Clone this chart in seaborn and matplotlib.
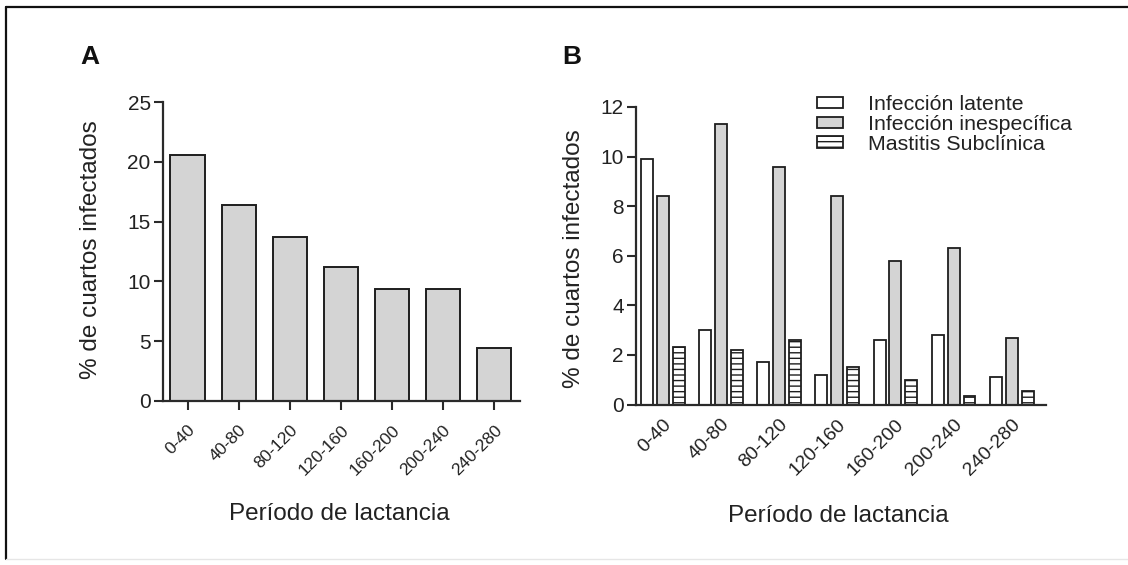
import matplotlib
matplotlib.use("Agg")
import matplotlib.pyplot as plt
from matplotlib.patches import Patch
from matplotlib.lines import Line2D
import seaborn as sns
import pandas as pd

# Lactation periods (days)
periods = ["0-40", "40-80", "80-120", "120-160", "160-200", "200-240", "240-280"]

# Panel A: total infected quarters (%)
total_infected = [20.6, 16.4, 13.7, 11.2, 9.4, 9.4, 4.4]

# Panel B: infected quarters by diagnosis (%)
latent = [9.9, 3.0, 1.7, 1.2, 2.6, 2.8, 1.1]
nonspecific = [8.4, 11.3, 9.6, 8.4, 5.8, 6.3, 2.7]
subclinical = [2.3, 2.2, 2.6, 1.5, 1.0, 0.35, 0.55]
series_names = ["Infección latente", "Infección inespecífica", "Mastitis Subclínica"]

sns.set_style("ticks")
plt.rcParams["font.family"] = ["Liberation Sans", "DejaVu Sans"]
plt.rcParams["hatch.linewidth"] = 1.0
plt.rcParams["hatch.color"] = "#222222"

ink = "#222222"
grey = "#d4d4d4"
edge = "#1e1e1e"

df_a = pd.DataFrame({"periodo": periods, "pct": total_infected})
df_b = pd.DataFrame({
    "periodo": periods * 3,
    "serie": [series_names[0]] * 7 + [series_names[1]] * 7 + [series_names[2]] * 7,
    "pct": latent + nonspecific + subclinical,
})

W, H = 1128, 565
fig = plt.figure(figsize=(W / 100, H / 100), dpi=100)
fig.patch.set_facecolor("white")

axA = fig.add_axes([162.5 / W, 1 - 401 / H, (519.6 - 162.5) / W, (401 - 102) / H])
axB = fig.add_axes([635.5 / W, 1 - 404.5 / H, (1045.5 - 635.5) / W, (404.5 - 107) / H])

# ---- Panel A ----
sns.barplot(data=df_a, x="periodo", y="pct", order=periods, color=grey,
            edgecolor=edge, linewidth=1.4, width=0.67, saturation=1, ax=axA)
for p in axA.patches:
    p.set_facecolor(grey)
axA.set_xlim(-0.49, 6.5)
axA.set_ylim(0, 25)
axA.set_yticks([0, 5, 10, 15, 20, 25])

# ---- Panel B ----
sns.barplot(data=df_b, x="periodo", y="pct", hue="serie", order=periods,
            hue_order=series_names, width=0.82, gap=0.25, saturation=1,
            edgecolor=edge, linewidth=1.3, legend=False, ax=axB)
styles = [("white", ""), (grey, ""), ("white", "---")]
for cont, (fc, hatch) in zip(axB.containers, styles):
    for p in cont.patches:
        p.set_facecolor(fc)
        p.set_edgecolor(edge)
        p.set_hatch(hatch)
axB.set_xlim(-0.47, 6.58)
axB.set_ylim(0, 12)
axB.set_yticks([0, 2, 4, 6, 8, 10, 12])

handles = [Patch(facecolor=fc, edgecolor=edge, hatch=h, linewidth=1.3)
           for fc, h in styles]
fig.legend(handles, series_names, loc="upper left",
           bbox_to_anchor=(817 / W, 1 - 95 / H), bbox_transform=fig.transFigure,
           frameon=False, fontsize=15.4, handlelength=1.22, handleheight=0.44,
           handletextpad=1.15, labelspacing=0.04, borderpad=0, borderaxespad=0,
           labelcolor=ink)

# ---- Shared axis styling ----
for ax, xfont, xpad, xlab_y, ylab_x, ylab_y in [
        (axA, 12.5, 9, -0.378, -0.200, 0.505),
        (axB, 14.0, 8, -0.375, -0.149, 0.492)]:
    sns.despine(ax=ax)
    for s in ("left", "bottom"):
        ax.spines[s].set_linewidth(1.6)
        ax.spines[s].set_color("#2a2a2a")
    ax.tick_params(axis="y", length=6.5, width=1.5, color="#2a2a2a",
                   labelsize=15, labelcolor=ink, pad=2)
    ax.tick_params(axis="x", length=6.5, width=1.5, color="#2a2a2a",
                   labelsize=xfont, labelcolor=ink, pad=xpad)
    ax.set_xticks(range(len(periods)))
    ax.set_xticklabels(periods, rotation=45, ha="right", rotation_mode="anchor")
    ax.set_xlabel("Período de lactancia", fontsize=17.5, color=ink, va="center")
    ax.set_ylabel("% de cuartos infectados", fontsize=17.5, color=ink, va="center")
    ax.xaxis.set_label_coords(0.494, xlab_y)
    ax.yaxis.set_label_coords(ylab_x, ylab_y)
    ax.set_facecolor("white")

axB.tick_params(axis="x", length=0)

# Panel letters
fig.text(80 / W, 1 - 63.5 / H, "A", fontsize=19, fontweight="bold", color="#111111",
         ha="left", va="baseline")
fig.text(562 / W, 1 - 63.5 / H, "B", fontsize=19, fontweight="bold", color="#111111",
         ha="left", va="baseline")

# Outer frame
fig.add_artist(Line2D([6 / W, 1], [1 - 7 / H, 1 - 7 / H], transform=fig.transFigure,
                      color="#111111", lw=1.6))
fig.add_artist(Line2D([6 / W, 6 / W], [1 - 7 / H, 1 - 559 / H], transform=fig.transFigure,
                      color="#111111", lw=1.6))
fig.add_artist(Line2D([6 / W, 1], [1 - 559 / H, 1 - 559 / H], transform=fig.transFigure,
                      color="#e6e6e6", lw=1.0))

fig.savefig("out.png", dpi=100, facecolor="white")
